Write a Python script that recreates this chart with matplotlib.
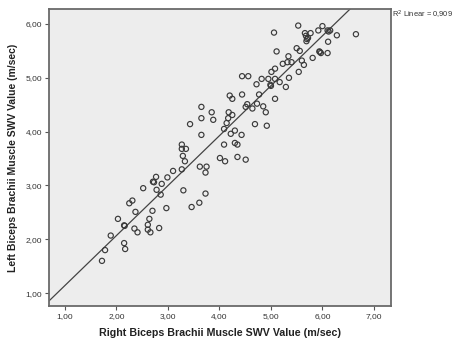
import numpy as np
import matplotlib as mpl
import matplotlib.pyplot as plt

mpl.rcParams["font.family"] = ["Liberation Sans", "DejaVu Sans"]

# right (x) vs left (y) biceps brachii SWV, m/sec
right_swv = [
    3.65, 3.85, 3.65, 3.88, 4.18, 4.25, 4.17, 4.14, 4.20, 4.25,
    4.44, 4.44, 4.56, 4.54, 4.51, 4.64, 4.73, 4.85, 4.90, 4.77,
    4.72, 4.82, 4.95, 4.99, 5.00, 5.08, 5.08, 5.06, 5.11, 5.01,
    5.08, 5.17, 5.29, 5.23, 5.32, 5.34, 5.40, 5.35, 5.53, 5.50,
    5.56, 5.54, 5.60, 5.64, 5.66, 5.68, 5.72, 5.69, 5.77, 5.81,
    5.94, 5.97, 6.10, 5.92, 6.00, 6.10, 6.15, 6.11, 6.28, 6.65,
    4.69, 4.92, 5.95, 6.12, 5.70,
    3.43, 4.09, 4.22, 4.30, 4.43, 3.65, 4.09, 4.30, 4.35, 3.27,
    3.27, 3.35, 3.29, 3.33, 4.01, 4.11, 4.35, 4.51, 3.62, 3.75,
    3.73, 3.27, 3.10, 2.99, 2.77, 2.71, 2.73, 2.88, 2.78, 2.86,
    2.52, 3.30, 3.73, 2.31, 2.25, 2.97, 3.46, 3.61, 2.37, 2.70,
    2.03, 2.64, 2.61, 2.15, 2.16, 2.35, 2.41, 2.61, 2.66, 2.83,
    1.89, 2.15, 2.17, 1.78, 1.72,
]
left_swv = [
    4.46, 4.36, 4.25, 4.22, 4.36, 4.31, 4.25, 4.16, 4.67, 4.61,
    4.69, 5.03, 5.03, 4.51, 4.46, 4.43, 4.52, 4.47, 4.36, 4.69,
    4.88, 4.98, 4.98, 4.87, 4.85, 4.98, 4.61, 5.84, 5.49, 5.11,
    5.17, 4.92, 4.83, 5.26, 5.29, 5.40, 5.29, 5.00, 5.97, 5.55,
    5.50, 5.11, 5.32, 5.24, 5.83, 5.78, 5.74, 5.68, 5.83, 5.37,
    5.49, 5.46, 5.46, 5.88, 5.96, 5.88, 5.88, 5.67, 5.79, 5.81,
    4.14, 4.11, 5.48, 5.86, 5.72,
    4.14, 4.05, 3.96, 4.02, 3.94, 3.94, 3.76, 3.79, 3.76, 3.76,
    3.68, 3.68, 3.55, 3.45, 3.51, 3.45, 3.53, 3.48, 3.35, 3.35,
    3.24, 3.30, 3.27, 3.15, 3.16, 3.07, 3.06, 3.03, 2.92, 2.83,
    2.95, 2.91, 2.85, 2.72, 2.67, 2.58, 2.60, 2.68, 2.51, 2.53,
    2.38, 2.38, 2.27, 2.26, 2.25, 2.20, 2.13, 2.18, 2.13, 2.21,
    2.07, 1.93, 1.82, 1.80, 1.60,
]
x_ticks = [1, 2, 3, 4, 5, 6, 7]
y_ticks = [1, 2, 3, 4, 5, 6]
r2_text = "R$^2$ Linear = 0,909"

x = np.array(right_swv)
y = np.array(left_swv)
slope, intercept = np.polyfit(x, y, 1)

fig = plt.figure(figsize=(4.53, 3.42), dpi=100)
ax = fig.add_axes([0.108, 0.105, 0.755, 0.869])
ax.set_facecolor("#ededed")

ax.scatter(x, y, s=14, facecolors="none", edgecolors="#3a3a3a", linewidths=0.85, zorder=3)

xlim = (0.69, 7.33)
xs = np.array(xlim)
ax.plot(xs, slope * xs + intercept, color="#444444", lw=0.9, zorder=2)

ax.set_xlim(*xlim)
ax.set_ylim(0.76, 6.28)
ax.set_xticks(x_ticks)
ax.set_yticks(y_ticks)
ax.set_xticklabels(["%d,00" % t for t in x_ticks])
ax.set_yticklabels(["%d,00" % t for t in y_ticks])
ax.tick_params(direction="out", length=3, width=0.8, labelsize=6,
               colors="#555555", labelcolor="#333333", pad=2)
for sp in ax.spines.values():
    sp.set_color("#6a6a6a")
    sp.set_linewidth(1.3)

ax.set_xlabel("Right Biceps Brachii Muscle SWV Value (m/sec)", fontsize=7.7,
              fontweight="bold", color="#222222", labelpad=6)
ax.set_ylabel("Left Biceps Brachii Muscle SWV Value (m/sec)", fontsize=7.5,
              fontweight="bold", color="#222222", labelpad=5)

fig.text(0.866, 0.957, r2_text, fontsize=5.4, color="#333333", va="center")

fig.savefig("out.png", dpi=100)
